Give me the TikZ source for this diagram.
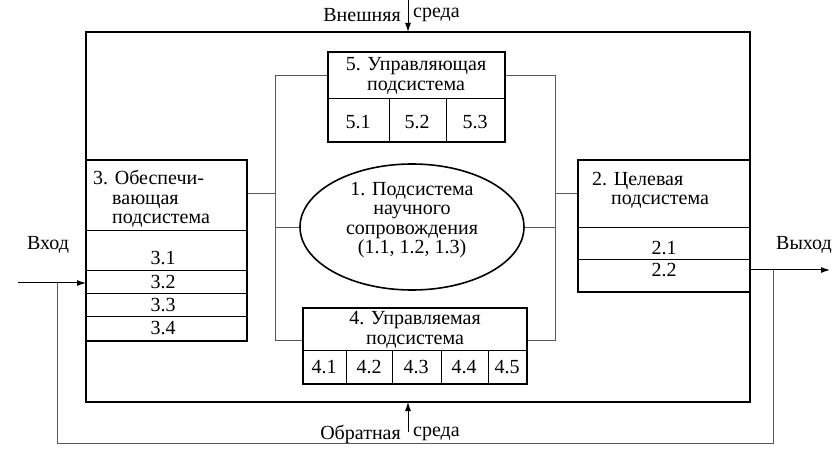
\documentclass[tikz,border=0pt]{standalone}
\usepackage{fontspec}
\setmainfont{Liberation Serif}
\usetikzlibrary{arrows.meta}
\begin{document}
\begin{tikzpicture}[x=1pt,y=-1pt,
  thick/.style={line width=1.6pt},
  conn/.style={draw=black!65,line width=0.9pt},
  arr/.style={line width=1pt,-{Latex[length=9pt,width=6pt]}},
  lbl/.style={inner sep=0pt,font=\fontsize{20}{19.5}\selectfont,align=center},
  thin/.style={line width=0.9pt}]
\useasboundingbox (0,0) rectangle (833,473);
% outer
\draw[thick] (86,32) rectangle (750,402);
\draw[arr] (408,0) -- (408,32);
\node[lbl,anchor=east] (ext1) at (401,15) {Внешняя};
\node[lbl,anchor=west] (ext2) at (413,15) {среда};
\draw[arr] (408,432) -- (408,402);
\node[lbl,anchor=east] (fb1) at (401,434) {Обратная};
\node[lbl,anchor=west] (fb2) at (413,434) {среда};
% connectors
\draw[conn] (328,75) -- (275,75) -- (275,340) -- (303,340);
\draw[conn] (505,75) -- (555,75) -- (555,340) -- (527,340);
\draw[conn] (247,193) -- (275,193);
\draw[conn] (275,227) -- (300,227);
\draw[conn] (524,227) -- (555,227);
\draw[conn] (555,193) -- (578,193);
% box 5
\draw[thick] (328,52) rectangle (505,142);
\draw[thin] (328,98) -- (505,98) (389,98) -- (389,142) (446,98) -- (446,142);
\node[lbl] (b5) at (416,76) {5. Управляющая\\подсистема};
\node[lbl] at (358,122) {5.1};
\node[lbl] at (417,122) {5.2};
\node[lbl] at (475,122) {5.3};
% ellipse
\draw[thick] (412,227) ellipse [x radius=112, y radius=63];
\node[lbl] (b1) at (412,220) {1. Подсистема\\научного\\сопровождения\\(1.1, 1.2, 1.3)};
% box 3
\draw[thick] (86,160) rectangle (247,341);
\draw[thin] (86,230) -- (247,230) (86,270) -- (247,270) (86,293) -- (247,293) (86,316) -- (247,316);
\node[lbl,anchor=north west,align=left] (b3) at (93,170) {3. Обеспечи-\\\hspace*{0.95em}вающая\\\hspace*{0.95em}подсистема};
\node[lbl] at (163,258) {3.1};
\node[lbl] at (163,282) {3.2};
\node[lbl] at (163,305) {3.3};
\node[lbl] at (163,328) {3.4};
% box 2
\draw[thick] (578,160) rectangle (750,292);
\draw[thin] (578,227) -- (750,227) (578,259) -- (750,259);
\node[lbl,anchor=north west,align=left] (b2) at (592,172) {2. Целевая\\\hspace*{0.95em}подсистема};
\node[lbl] at (664,248) {2.1};
\node[lbl] at (664,270) {2.2};
% box 4
\draw[thick] (303,308) rectangle (527,384);
\draw[thin] (303,350) -- (527,350) (346,350) -- (346,384) (392,350) -- (392,384) (441,350) -- (441,384) (488,350) -- (488,384);
\node[lbl] (b4) at (415,330) {4. Управляемая\\подсистема};
\node[lbl] at (324,367) {4.1};
\node[lbl] at (369,367) {4.2};
\node[lbl] at (416,367) {4.3};
\node[lbl] at (464,367) {4.4};
\node[lbl] at (507,367) {4.5};
% in/out
\node[lbl] (in) at (48,245) {Вход};
\node[lbl] (out) at (804,245) {Выход};
\draw[arr] (18,283) -- (86,283);
\draw[arr] (750,270) -- (830,270);
\draw[conn] (773,270) -- (773,443) -- (57,443) -- (57,283);
\end{tikzpicture}
\end{document}
